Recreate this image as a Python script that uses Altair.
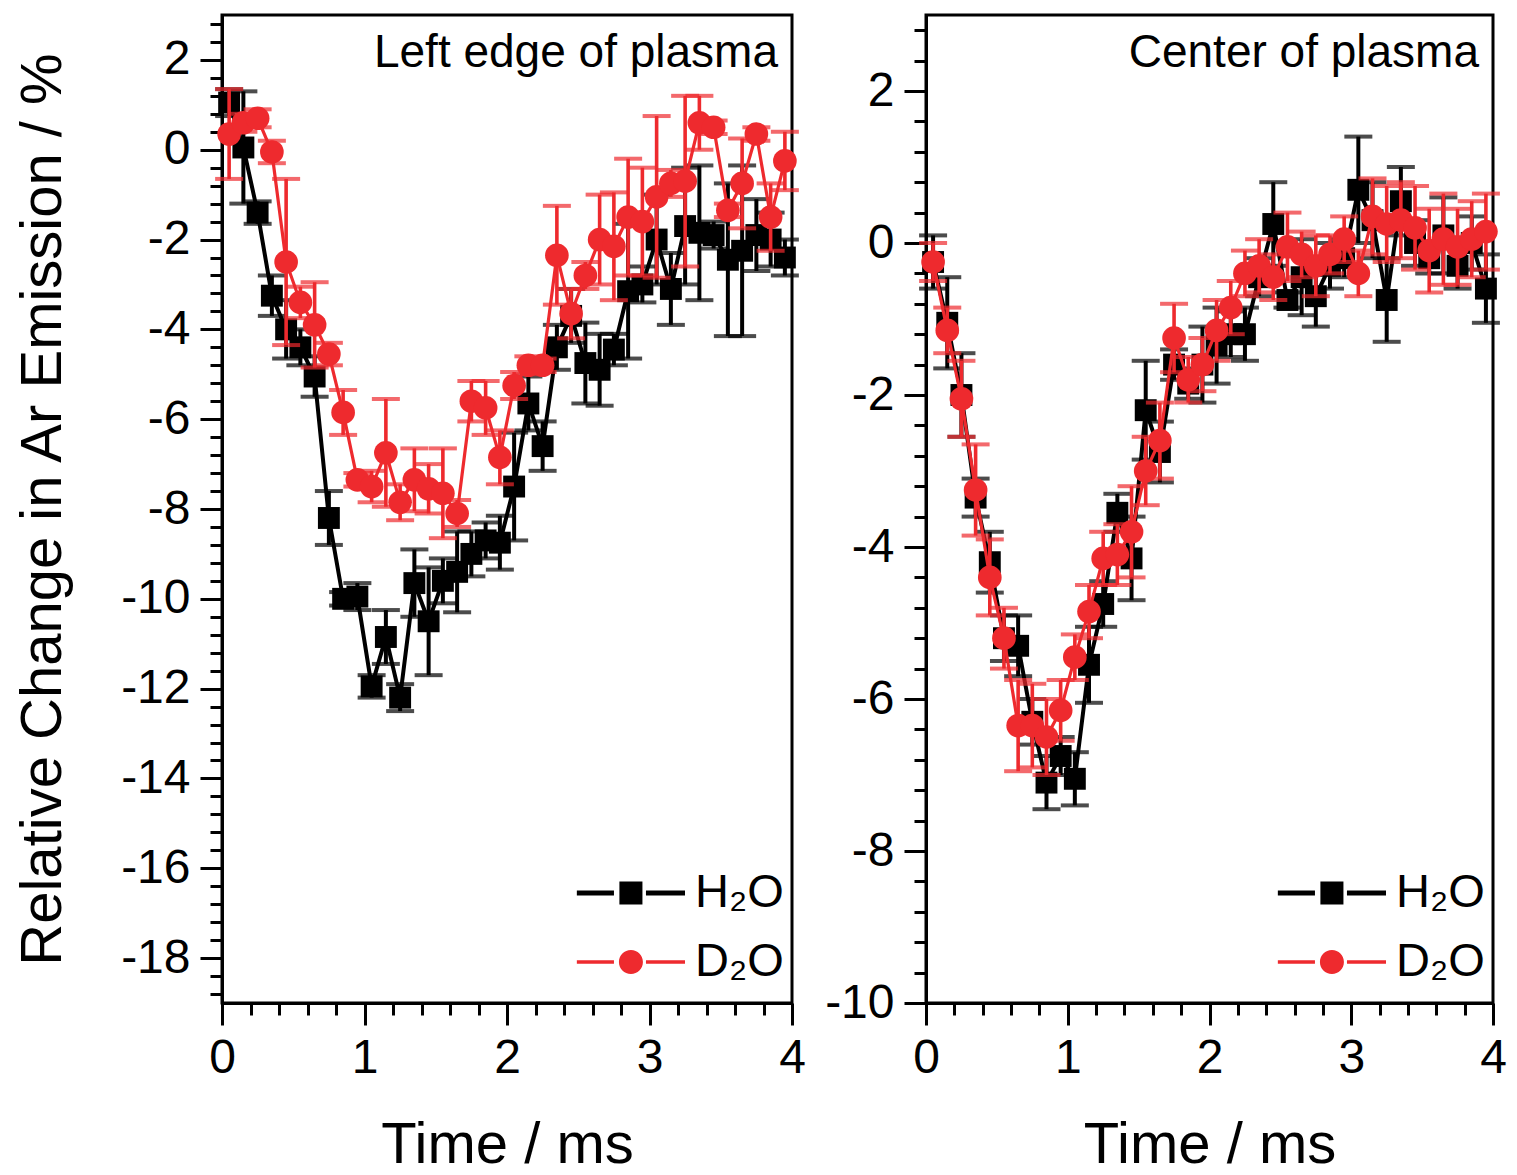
import altair as alt
import pandas as pd

# ---------------- data ----------------
t_ms = [0.05, 0.15, 0.25, 0.35, 0.45, 0.55, 0.65, 0.75, 0.85, 0.95,
        1.05, 1.15, 1.25, 1.35, 1.45, 1.55, 1.65, 1.75, 1.85, 1.95,
        2.05, 2.15, 2.25, 2.35, 2.45, 2.55, 2.65, 2.75, 2.85, 2.95,
        3.05, 3.15, 3.25, 3.35, 3.45, 3.55, 3.65, 3.75, 3.85, 3.95]

left_h2o = [1.05, 0.05, -1.4, -3.25, -4.0, -4.4, -5.05, -8.2, -10.0, -9.95,
            -11.95, -10.85, -12.2, -9.65, -10.5, -9.6, -9.4, -9.0, -8.7, -8.75,
            -7.5, -5.65, -6.6, -4.4, -3.7, -4.75, -4.9, -4.45, -3.15, -3.0,
            -2.0, -3.1, -1.7, -1.85, -1.9, -2.45, -2.25, -1.9, -2.0, -2.4]
left_h2o_err = [0.3, 1.25, 0.25, 0.45, 0.65, 0.4, 0.45, 0.6, 0.15, 0.3,
                0.25, 0.6, 0.3, 0.75, 1.2, 0.5, 0.9, 0.5, 0.4, 0.6,
                1.2, 0.6, 0.55, 0.5, 0.6, 0.9, 0.8, 0.35, 1.5, 0.4,
                1.0, 0.8, 1.3, 1.5, 0.3, 1.7, 1.9, 0.8, 0.6, 0.4]
left_d2o = [0.35, 0.6, 0.7, -0.05, -2.5, -3.4, -3.9, -4.55, -5.85, -7.35,
            -7.5, -6.75, -7.85, -7.35, -7.55, -7.65, -8.1, -5.6, -5.75, -6.85,
            -5.25, -4.8, -4.8, -2.35, -3.65, -2.8, -2.0, -2.15, -1.5, -1.6,
            -1.05, -0.75, -0.7, 0.6, 0.5, -1.35, -0.75, 0.35, -1.5, -0.25]
left_d2o_err = [1.0, 0.2, 0.2, 0.25, 1.85, 0.35, 0.95, 0.25, 0.5, 0.15,
                0.35, 1.2, 0.4, 0.7, 0.55, 1.0, 0.3, 0.45, 0.6, 0.6,
                0.3, 0.2, 0.15, 1.1, 0.55, 0.3, 1.0, 1.2, 1.3, 1.2,
                1.8, 0.3, 1.9, 0.6, 0.15, 0.15, 1.0, 0.15, 0.75, 0.65]

right_h2o = [-0.25, -1.05, -2.0, -3.35, -4.2, -5.2, -5.3, -6.3, -7.1, -6.75,
             -7.05, -5.55, -4.75, -3.55, -4.15, -2.2, -2.75, -1.6, -1.85, -1.6,
             -1.35, -1.2, -1.2, -0.45, 0.25, -0.75, -0.45, -0.7, -0.3, -0.2,
             0.7, 0.3, -0.75, 0.55, 0.0, -0.2, 0.1, -0.3, 0.0, -0.6]
right_h2o_err = [0.35, 0.6, 0.55, 0.25, 0.4, 0.3, 0.4, 0.3, 0.35, 0.25,
                 0.35, 0.5, 0.3, 0.25, 0.55, 0.65, 0.4, 0.2, 0.2, 0.5,
                 0.5, 0.3, 0.35, 0.25, 0.55, 0.1, 0.5, 0.4, 0.3, 0.25,
                 0.7, 0.5, 0.55, 0.45, 0.3, 0.2, 0.5, 0.3, 0.35, 0.45]
right_d2o = [-0.25, -1.15, -2.05, -3.25, -4.4, -5.2, -6.35, -6.35, -6.5, -6.15,
             -5.45, -4.85, -4.15, -4.1, -3.8, -3.0, -2.6, -1.25, -1.8, -1.6,
             -1.15, -0.85, -0.4, -0.3, -0.45, -0.05, -0.15, -0.3, -0.15, 0.05,
             -0.4, 0.35, 0.25, 0.3, 0.2, -0.1, 0.05, -0.05, 0.05, 0.15]
right_d2o_err = [0.25, 0.3, 0.5, 0.6, 0.5, 0.4, 0.6, 0.55, 0.5, 0.4,
                 0.3, 0.35, 0.35, 0.4, 0.6, 0.45, 0.5, 0.45, 0.3, 0.35,
                 0.4, 0.35, 0.3, 0.35, 0.3, 0.45, 0.3, 0.4, 0.25, 0.3,
                 0.3, 0.5, 0.5, 0.5, 0.55, 0.55, 0.6, 0.5, 0.5, 0.5]

SERIES = ["H\u2082O", "D\u2082O"]
COLORS = ["#000000", "#ee2a2e"]

panel_titles = ["Left edge of plasma", "Center of plasma"]
x_major = [0, 1, 2, 3, 4]
left_y_major = [2, 0, -2, -4, -6, -8, -10, -12, -14, -16, -18]
right_y_major = [2, 0, -2, -4, -6, -8, -10]

FONT = "Liberation Sans"
W_LEFT, W_RIGHT, H = 570, 567, 988


def make_df(h2o, h2o_err, d2o, d2o_err):
    rows = []
    for name, vals, errs in [(SERIES[0], h2o, h2o_err), (SERIES[1], d2o, d2o_err)]:
        for t, v, e in zip(t_ms, vals, errs):
            rows.append({"t": t, "v": v, "lo": v - e, "hi": v + e, "series": name})
    return pd.DataFrame(rows)


def minor_values(lo, hi, step, majors):
    out = []
    k = int(round(lo / step))
    while k * step <= hi + 1e-9:
        val = round(k * step, 3)
        if all(abs(val - m) > 1e-6 for m in majors):
            out.append(val)
        k += 1
    return out


# legend symbols: line - marker - line (custom paths, unit = sqrt(size)/2)
SQ_PATH = ("M-2.38,-0.08H-1.22V0.08H-2.38Z "
           "M-1.05,-0.36H-0.33V0.36H-1.05Z "
           "M-0.22,-0.08H1V0.08H-0.22Z")
CI_PATH = ("M-2.38,-0.055H-1.22V0.055H-2.38Z "
           "M-0.315,0A0.375,0.375 0 1,1 -1.065,0A0.375,0.375 0 1,1 -0.315,0Z "
           "M-0.22,-0.055H1V0.055H-0.22Z")


def panel(df, title, ydom, ymajor, width, show_ytitle):
    xscale = alt.Scale(domain=[0, 4], nice=False, zero=False)
    yscale = alt.Scale(domain=ydom, nice=False, zero=False)
    label_expr = "'' + datum.value"

    base = alt.Chart(df)

    major_axes = base.mark_point(opacity=0).encode(
        x=alt.X("t:Q", scale=xscale,
                axis=alt.Axis(orient="bottom", values=x_major, tickSize=22, labelExpr=label_expr,
                              labelFlush=False, title="Time / ms", labelPadding=9, titlePadding=34)),
        y=alt.Y("v:Q", scale=yscale,
                axis=alt.Axis(orient="left", values=ymajor, tickSize=22, labelExpr=label_expr,
                              labelFlush=False,
                              title="Relative Change in Ar Emission / %" if show_ytitle else None,
                              labelPadding=10, titlePadding=48)),
    )
    minor_axes = base.mark_point(opacity=0).encode(
        x=alt.X("t:Q", scale=xscale,
                axis=alt.Axis(orient="bottom", values=minor_values(0, 4, 0.2, x_major), tickSize=12,
                              labels=False, domain=False, title=None)),
        y=alt.Y("v:Q", scale=yscale,
                axis=alt.Axis(orient="left", values=minor_values(ydom[0], ydom[1], 0.4, ymajor),
                              tickSize=12, labels=False, domain=False, title=None)),
    )

    layers = [major_axes, minor_axes]
    styles = {SERIES[0]: dict(color=COLORS[0], lw=4, ew=4, shape="square", size=480),
              SERIES[1]: dict(color=COLORS[1], lw=3.2, ew=3.6, shape="circle", size=560)}
    for s in SERIES:
        st = styles[s]
        sub = base.transform_filter(alt.datum.series == s)
        xe = alt.X("t:Q", scale=xscale, axis=None)
        rule = sub.mark_rule(color=st["color"], strokeWidth=st["ew"]).encode(
            x=xe, y=alt.Y("lo:Q", scale=yscale, axis=None), y2="hi:Q")
        cap_lo = sub.mark_tick(color=st["color"], orient="horizontal", size=28, thickness=4).encode(
            x=xe, y=alt.Y("lo:Q", scale=yscale, axis=None))
        cap_hi = sub.mark_tick(color=st["color"], orient="horizontal", size=28, thickness=4).encode(
            x=xe, y=alt.Y("hi:Q", scale=yscale, axis=None))
        line = sub.mark_line(color=st["color"], strokeWidth=st["lw"]).encode(
            x=xe, y=alt.Y("v:Q", scale=yscale, axis=None), order="t:Q")
        pts = sub.mark_point(shape=st["shape"], filled=True, opacity=1, size=st["size"],
                             color=st["color"]).encode(
            x=xe, y=alt.Y("v:Q", scale=yscale, axis=None))
        layers += [rule, cap_lo, cap_hi, line, pts]

    leg = alt.Legend(title=None, orient="none", legendX=width - 171, legendY=846, symbolSize=4096,
                     symbolStrokeWidth=0, labelFontSize=47, labelFont=FONT, labelOffset=10,
                     rowPadding=14, padding=0, labelColor="black")
    legend_layer = base.transform_filter("false").mark_point(filled=True, opacity=1, size=4096).encode(
        shape=alt.Shape("series:N", scale=alt.Scale(domain=SERIES, range=[SQ_PATH, CI_PATH]), legend=leg),
        color=alt.Color("series:N", scale=alt.Scale(domain=SERIES, range=COLORS), legend=leg),
    )
    layers.append(legend_layer)

    text_layer = alt.Chart(pd.DataFrame({"label": [title]})).mark_text(
        align="right", baseline="top", fontSize=46, font=FONT, color="black"
    ).encode(text="label:N", x=alt.value(width - 14), y=alt.value(16))
    layers.append(text_layer)

    return alt.layer(*layers).resolve_axis(x="independent", y="independent").properties(
        width=width, height=H)


left = panel(make_df(left_h2o, left_h2o_err, left_d2o, left_d2o_err),
             panel_titles[0], [-19, 3], left_y_major, W_LEFT, True)
right = panel(make_df(right_h2o, right_h2o_err, right_d2o, right_d2o_err),
              panel_titles[1], [-10, 3], right_y_major, W_RIGHT, False)

chart = alt.hconcat(left, right, spacing=16).resolve_scale(
    color="independent", shape="independent"
).properties(
    padding={"left": 5, "top": 5, "right": 0, "bottom": 0}
).configure_view(stroke="black", strokeWidth=3).configure_axis(
    grid=False, domainColor="black", domainWidth=3, tickColor="black", tickWidth=3,
    labelColor="black", labelFontSize=48, labelFont=FONT, titleFont=FONT, titleFontSize=58,
    titleFontWeight="normal", titleColor="black"
)

chart.save("out.html", embed_options={"renderer": "svg", "actions": False})
